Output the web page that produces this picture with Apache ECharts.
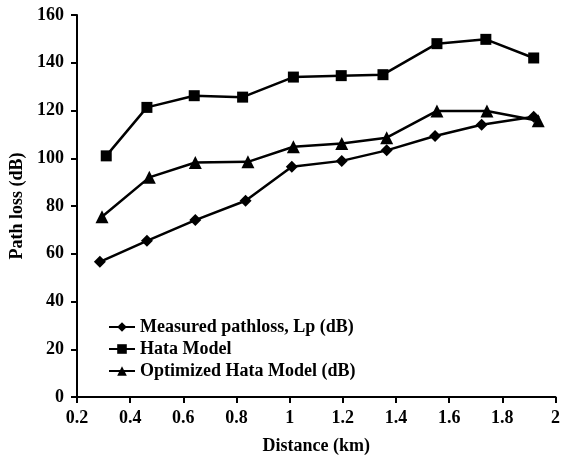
<!DOCTYPE html>
<html>
<head>
<meta charset="utf-8">
<script src="https://cdn.jsdelivr.net/npm/echarts@6/dist/echarts.min.js"></script>
<style>
  html, body { margin: 0; padding: 0; background: #fff; }
  #chart { width: 563px; height: 463px; }
</style>
</head>
<body>
<div id="chart"></div>
<script>
  // values
  var measuredX = [0.286, 0.463, 0.645, 0.834, 1.008, 1.196, 1.365, 1.547, 1.722, 1.918];
  var measuredY = [56.6, 65.4, 74.1, 82.2, 96.4, 98.9, 103.3, 109.3, 114.0, 117.4];
  var hataX = [0.31, 0.463, 0.641, 0.823, 1.014, 1.194, 1.351, 1.554, 1.738, 1.918];
  var hataY = [101.0, 121.3, 126.2, 125.6, 134.0, 134.6, 135.0, 148.0, 149.8, 142.0];
  var optX = [0.294, 0.472, 0.645, 0.843, 1.014, 1.196, 1.365, 1.554, 1.742, 1.935];
  var optY = [75.5, 92.0, 98.2, 98.5, 104.8, 106.2, 108.6, 119.8, 119.8, 115.7];
  var names = ['Measured pathloss, Lp (dB)', 'Hata Model', 'Optimized Hata Model (dB)'];

  function pairs(xs, ys) {
    return xs.map(function (x, i) { return [x, ys[i]]; });
  }

  var font = 'Liberation Serif';
  var myChart = echarts.init(document.getElementById('chart'));
  myChart.setOption({
    animation: false,
    textStyle: { fontFamily: font },
    grid: { left: 77, right: 7, top: 15, bottom: 66 },
    legend: {
      left: 103, top: 313, orient: 'vertical',
      itemWidth: 26, itemHeight: 12, itemGap: 4,
      textStyle: { fontFamily: font, fontSize: 18, fontWeight: 'bold', color: '#000' },
      data: names
    },
    xAxis: {
      type: 'value', min: 0.2, max: 2, interval: 0.2,
      name: 'Distance (km)', nameLocation: 'middle', nameGap: 40,
      nameTextStyle: { fontFamily: font, fontSize: 18, fontWeight: 'bold', color: '#000' },
      axisLine: { lineStyle: { color: '#000', width: 2 } },
      axisTick: { length: 6, lineStyle: { color: '#000', width: 2 } },
      axisLabel: { fontFamily: font, fontSize: 18, fontWeight: 'bold', color: '#000', margin: 12 },
      splitLine: { show: false }
    },
    yAxis: {
      type: 'value', min: 0, max: 160, interval: 20,
      name: 'Path loss (dB)', nameLocation: 'middle', nameGap: 50,
      nameTextStyle: { fontFamily: font, fontSize: 18, fontWeight: 'bold', color: '#000' },
      axisLine: { show: true, lineStyle: { color: '#000', width: 2 } },
      axisTick: { show: true, length: 6, lineStyle: { color: '#000', width: 2 } },
      axisLabel: { fontFamily: font, fontSize: 18, fontWeight: 'bold', color: '#000', margin: 13 },
      splitLine: { show: false }
    },
    series: [
      {
        name: names[0], type: 'line', data: pairs(measuredX, measuredY),
        symbol: 'diamond', symbolSize: 12,
        lineStyle: { color: '#000', width: 2.5 }, itemStyle: { color: '#000' }
      },
      {
        name: names[1], type: 'line', data: pairs(hataX, hataY),
        symbol: 'rect', symbolSize: 11,
        lineStyle: { color: '#000', width: 2.5 }, itemStyle: { color: '#000' }
      },
      {
        name: names[2], type: 'line', data: pairs(optX, optY),
        symbol: 'triangle', symbolSize: 13,
        lineStyle: { color: '#000', width: 2.5 }, itemStyle: { color: '#000' }
      }
    ]
  });
</script>
</body>
</html>
